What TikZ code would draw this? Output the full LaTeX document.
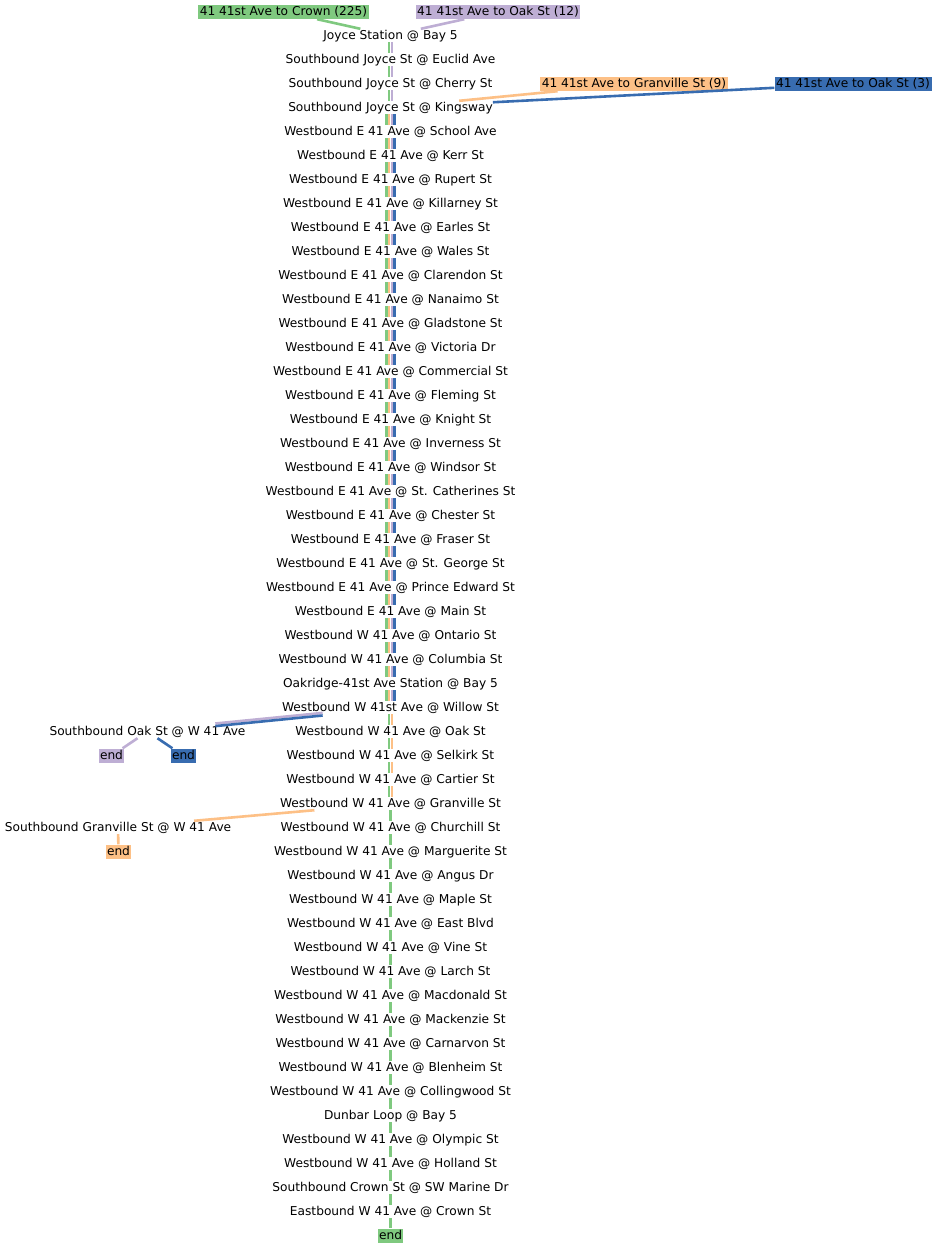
\documentclass[tikz,border=0pt]{standalone}
\usepackage{fontspec}
\setmainfont{DejaVu Sans}
\definecolor{cg}{HTML}{7FC97F}
\definecolor{cp}{HTML}{BEAED4}
\definecolor{co}{HTML}{FDC086}
\definecolor{cb}{HTML}{386CB0}
\tikzset{
  stop/.style={inner sep=0pt, text height=10.5pt, text depth=2.5pt, anchor=base, font=\fontsize{12.2}{14}\selectfont},
  tag/.style={inner xsep=1.5pt, inner ysep=0pt, text height=10.5pt, text depth=4pt, anchor=base, font=\fontsize{12.2}{14}\selectfont},
  route/.style={line width=2.6pt},
}
\begin{document}
\begin{tikzpicture}[x=1pt,y=-1pt]
\useasboundingbox[fill=white] (0,0) rectangle (937,1248);
\foreach \t [count=\i from 0] in {
Joyce Station @ Bay 5,
Southbound Joyce St @ Euclid Ave,
Southbound Joyce St @ Cherry St,
Southbound Joyce St @ Kingsway,
Westbound E 41 Ave @ School Ave,
Westbound E 41 Ave @ Kerr St,
Westbound E 41 Ave @ Rupert St,
Westbound E 41 Ave @ Killarney St,
Westbound E 41 Ave @ Earles St,
Westbound E 41 Ave @ Wales St,
Westbound E 41 Ave @ Clarendon St,
Westbound E 41 Ave @ Nanaimo St,
Westbound E 41 Ave @ Gladstone St,
Westbound E 41 Ave @ Victoria Dr,
Westbound E 41 Ave @ Commercial St,
Westbound E 41 Ave @ Fleming St,
Westbound E 41 Ave @ Knight St,
Westbound E 41 Ave @ Inverness St,
Westbound E 41 Ave @ Windsor St,
Westbound E 41 Ave @ St. Catherines St,
Westbound E 41 Ave @ Chester St,
Westbound E 41 Ave @ Fraser St,
Westbound E 41 Ave @ St. George St,
Westbound E 41 Ave @ Prince Edward St,
Westbound E 41 Ave @ Main St,
Westbound W 41 Ave @ Ontario St,
Westbound W 41 Ave @ Columbia St,
Oakridge-41st Ave Station @ Bay 5,
Westbound W 41st Ave @ Willow St,
Westbound W 41 Ave @ Oak St,
Westbound W 41 Ave @ Selkirk St,
Westbound W 41 Ave @ Cartier St,
Westbound W 41 Ave @ Granville St,
Westbound W 41 Ave @ Churchill St,
Westbound W 41 Ave @ Marguerite St,
Westbound W 41 Ave @ Angus Dr,
Westbound W 41 Ave @ Maple St,
Westbound W 41 Ave @ East Blvd,
Westbound W 41 Ave @ Vine St,
Westbound W 41 Ave @ Larch St,
Westbound W 41 Ave @ Macdonald St,
Westbound W 41 Ave @ Mackenzie St,
Westbound W 41 Ave @ Carnarvon St,
Westbound W 41 Ave @ Blenheim St,
Westbound W 41 Ave @ Collingwood St,
Dunbar Loop @ Bay 5,
Westbound W 41 Ave @ Olympic St,
Westbound W 41 Ave @ Holland St,
Southbound Crown St @ SW Marine Dr,
Eastbound W 41 Ave @ Crown St}
{
  \node[stop] (s\i) at (390.5,{39.5+24*\i}) {\t};
}
\node[stop] (oak) at (147.5,735.5) {Southbound Oak St @ W 41 Ave};
\node[stop] (gsb) at (118,831.5) {Southbound Granville St @ W 41 Ave};
\node[tag, fill=cg] (lg) at (283.5,15) {41 41st Ave to Crown (225)};
\node[tag, fill=cp] (lp) at (498,15) {41 41st Ave to Oak St (12)};
\node[tag, fill=co] (lo) at (634,87) {41 41st Ave to Granville St (9)};
\node[tag, fill=cb] (lb) at (853,87) {41 41st Ave to Oak St (3)};
\node[tag, fill=cp] (ep) at (111.5,759) {end};
\node[tag, fill=cb] (eb) at (183.5,759) {end};
\node[tag, fill=co] (eo) at (118.5,855) {end};
\node[tag, fill=cg] (eg) at (390.5,1239) {end};
% route starts
\draw[route, cg] (lg) -- (s0);
\draw[route, cp] (lp) -- (s0);
\draw[route, co] (lo) -- (s3);
\draw[route, cb] (lb) -- (s3);
% Joyce to Kingsway: green + purple
\foreach \i in {0,...,2}{
  \pgfmathtruncatemacro\j{\i+1}
  \draw[route, cg] ([xshift=-1.5pt]s\i.south) -- ([xshift=-1.5pt]s\j.north);
  \draw[route, cp] ([xshift=1.5pt]s\i.south) -- ([xshift=1.5pt]s\j.north);
}
% Kingsway to Willow: four routes
\foreach \i in {3,...,27}{
  \pgfmathtruncatemacro\j{\i+1}
  \draw[route, cg] ([xshift=-4.2pt]s\i.south) -- ([xshift=-4.2pt]s\j.north);
  \draw[route, co] ([xshift=-1.4pt]s\i.south) -- ([xshift=-1.4pt]s\j.north);
  \draw[route, cp] ([xshift=1.4pt]s\i.south) -- ([xshift=1.4pt]s\j.north);
  \draw[route, cb] ([xshift=4.2pt]s\i.south) -- ([xshift=4.2pt]s\j.north);
}
% Willow to Granville: green + orange
\foreach \i in {28,...,31}{
  \pgfmathtruncatemacro\j{\i+1}
  \draw[route, cg] ([xshift=-1.5pt]s\i.south) -- ([xshift=-1.5pt]s\j.north);
  \draw[route, co] ([xshift=1.5pt]s\i.south) -- ([xshift=1.5pt]s\j.north);
}
% Granville to Crown: green
\foreach \i in {32,...,48}{
  \pgfmathtruncatemacro\j{\i+1}
  \draw[route, cg] (s\i.south) -- (s\j.north);
}
\draw[route, cg] (s49.south) -- (eg.north);
% Oak St branches
\draw[route, cp, transform canvas={yshift=1.3pt}] (s28) -- (oak);
\draw[route, cb, transform canvas={yshift=-1.3pt}] (s28) -- (oak);
\draw[route, cp] (oak) -- (ep);
\draw[route, cb] (oak) -- (eb);
% Granville branch
\draw[route, co] (s32) -- (gsb);
\draw[route, co] (gsb) -- (eo);
\end{tikzpicture}
\end{document}
